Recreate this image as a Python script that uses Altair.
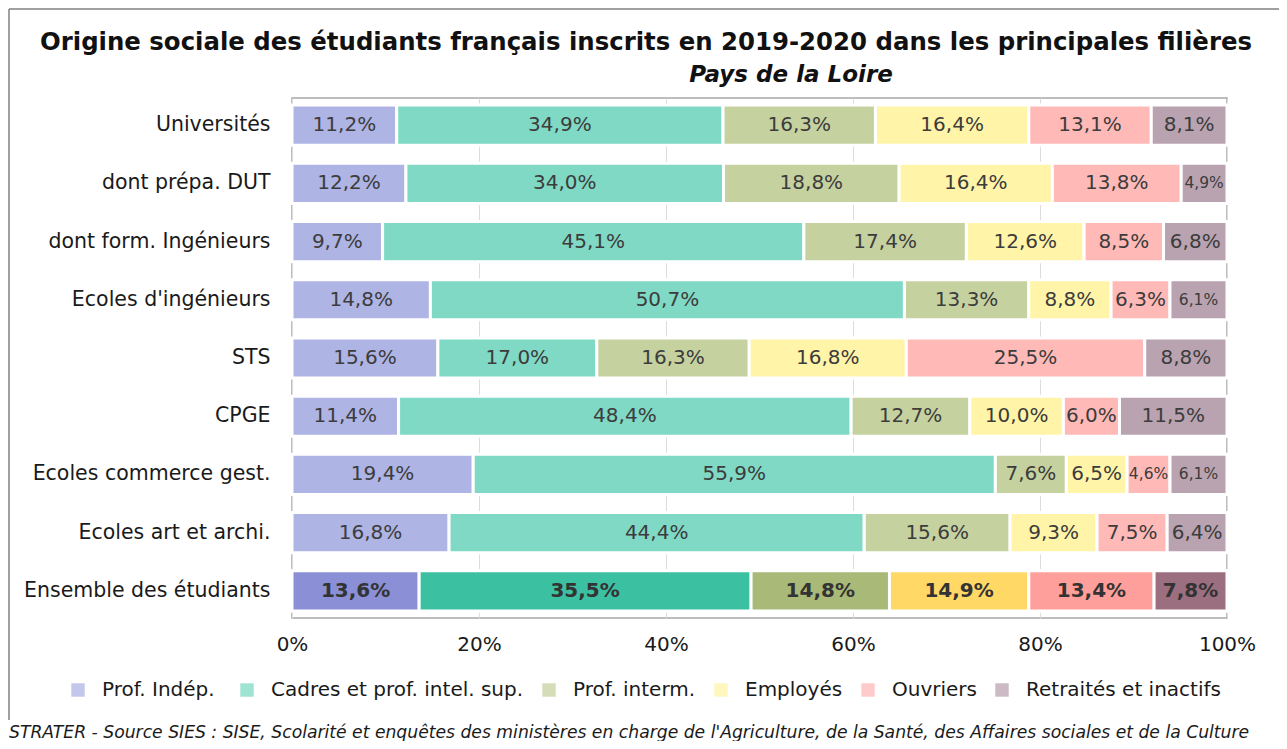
import altair as alt
import pandas as pd

filieres = ["Universités", "dont prépa. DUT", "dont form. Ingénieurs", "Ecoles d'ingénieurs",
            "STS", "CPGE", "Ecoles commerce gest.", "Ecoles art et archi.", "Ensemble des étudiants"]
categories = ["Prof.  Indép.", "Cadres et prof. intel. sup.", "Prof. interm.", "Employés",
              "Ouvriers", "Retraités et inactifs"]
prof_indep = [11.2, 12.2, 9.7, 14.8, 15.6, 11.4, 19.4, 16.8, 13.6]
cadres = [34.9, 34.0, 45.1, 50.7, 17.0, 48.4, 55.9, 44.4, 35.5]
prof_interm = [16.3, 18.8, 17.4, 13.3, 16.3, 12.7, 7.6, 15.6, 14.8]
employes = [16.4, 16.4, 12.6, 8.8, 16.8, 10.0, 6.5, 9.3, 14.9]
ouvriers = [13.1, 13.8, 8.5, 6.3, 25.5, 6.0, 4.6, 7.5, 13.4]
retraites = [8.1, 4.9, 6.8, 6.1, 8.8, 11.5, 6.1, 6.4, 7.8]

title_text = "Origine sociale des étudiants français inscrits en 2019-2020 dans les principales filières"
subtitle_text = "Pays de la Loire"
source_text = ("STRATER - Source SIES : SISE, Scolarité et enquêtes des ministères en charge de "
               "l'Agriculture, de la Santé, des Affaires sociales et de la Culture")

light_colors = ["#AEB4E4", "#7FD9C4", "#C6D1A0", "#FFF4A8", "#FFBAB8", "#B9A3B0"]
dark_colors = ["#8A8FD6", "#3CC0A2", "#A8B978", "#FFD866", "#FF9F9B", "#9C6F80"]

FONT = "DejaVu Sans"

series = [prof_indep, cadres, prof_interm, employes, ouvriers, retraites]
rows = []
for i, f in enumerate(filieres):
    vals = [s[i] for s in series]
    total = sum(vals)
    cum = 0.0
    for j, c in enumerate(categories):
        v = vals[j]
        start = cum / total * 100
        cum += v
        end = cum / total * 100
        small = v < 5 or (j == 5 and v < 6.2)
        rows.append({
            "filiere": f, "cat": c, "dark": c + " ", "value": v,
            "start": start, "end": end, "mid": (start + end) / 2,
            "label": f"{v:.1f}%".replace(".", ","),
            "fs": 15.5 if small else 20,
            "total": f == filieres[-1],
        })
df = pd.DataFrame(rows)
dark_df = df[df["total"]]

W, H = 935, 520
PL, PT = 284, 90
PR = 1271 - PL - W
PB = 733 - PT - H

y_enc = alt.Y("filiere:N", sort=filieres, title=None,
              scale=alt.Scale(paddingInner=0.31, paddingOuter=0.12),
              axis=alt.Axis(labelFontSize=20.5, labelColor="#1a1a1a", labelPadding=22,
                            ticks=False, domain=False, labelFont=FONT, labelLimit=400))
x_enc = alt.X("start:Q", title=None,
              scale=alt.Scale(domain=[0, 100], nice=False),
              axis=alt.Axis(values=[0, 20, 40, 60, 80, 100],
                            labelExpr="datum.value + '%'",
                            labelFontSize=20, labelColor="#1a1a1a", labelPadding=16,
                            ticks=False, domain=False, grid=True, gridColor="#dcdcdc",
                            labelFont=FONT, labelFlush=False))

bars_light = alt.Chart(df).mark_bar(stroke="white", strokeWidth=3).encode(
    y=y_enc, x=x_enc, x2="end:Q",
    color=alt.Color("cat:N", sort=categories,
                    scale=alt.Scale(domain=categories, range=light_colors),
                    legend=alt.Legend(orient="none", legendX=-224, legendY=582,
                                      direction="horizontal", title=None,
                                      labelFontSize=20, labelColor="#1a1a1a",
                                      labelFont=FONT, labelOffset=14,
                                      symbolType="square", symbolSize=180,
                                      symbolStrokeWidth=0, symbolOpacity=0.75,
                                      columnPadding=15, labelLimit=400)),
)

bars_dark = alt.Chart(dark_df).mark_bar(stroke="white", strokeWidth=3).encode(
    y=alt.Y("filiere:N", sort=filieres), x=alt.X("start:Q"), x2="end:Q",
    color=alt.Color("dark:N", scale=alt.Scale(domain=[c + " " for c in categories],
                                              range=dark_colors), legend=None),
)

text_norm = alt.Chart(df[~df["total"]]).mark_text(color="#3c3c3c", font=FONT).encode(
    y=alt.Y("filiere:N", sort=filieres),
    x=alt.X("mid:Q"),
    text="label:N",
    size=alt.Size("fs:Q", scale=None),
)
text_bold = alt.Chart(dark_df).mark_text(color="#333333", font=FONT,
                                         fontWeight="bold").encode(
    y=alt.Y("filiere:N", sort=filieres),
    x=alt.X("mid:Q"),
    text="label:N",
    size=alt.Size("fs:Q", scale=None),
)

title_mark = alt.Chart(pd.DataFrame({"t": [title_text]})).mark_text(
    align="center", baseline="middle", fontWeight="bold", fontSize=24.4,
    font=FONT, color="#111111").encode(
    text="t:N", x=alt.value(354), y=alt.value(-55))

subtitle_mark = alt.Chart(pd.DataFrame({"t": [subtitle_text]})).mark_text(
    align="center", baseline="middle", fontWeight="bold", fontStyle="italic", fontSize=23,
    font=FONT, color="#111111").encode(
    text="t:N", x=alt.value(499), y=alt.value(-23))

foot = alt.Chart(pd.DataFrame({"t": [source_text]})).mark_text(
    align="left", baseline="middle", fontStyle="italic", fontSize=17.2,
    font=FONT, color="#1a1a1a").encode(
    text="t:N", x=alt.value(-283), y=alt.value(635))

frame_left = alt.Chart(pd.DataFrame({"a": [1]})).mark_rule(
    color="#808080", strokeWidth=1.5).encode(
    x=alt.value(-283), y=alt.value(-89), y2=alt.value(622))
frame_top = alt.Chart(pd.DataFrame({"a": [1]})).mark_rule(
    color="#808080", strokeWidth=1.5).encode(
    x=alt.value(-283), x2=alt.value(W + PR), y=alt.value(-89))

chart = alt.layer(bars_light, bars_dark, text_norm, text_bold, title_mark, subtitle_mark,
                  foot, frame_left, frame_top).resolve_scale(
    color="independent"
).properties(
    width=W, height=H, background="white",
    autosize=alt.AutoSizeParams(type="none"),
    padding={"left": PL, "top": PT, "right": PR, "bottom": PB},
).configure_view(stroke="#a8a8a8", strokeWidth=1.5)

chart.save("out.html", embed_options={"renderer": "svg", "actions": False})
